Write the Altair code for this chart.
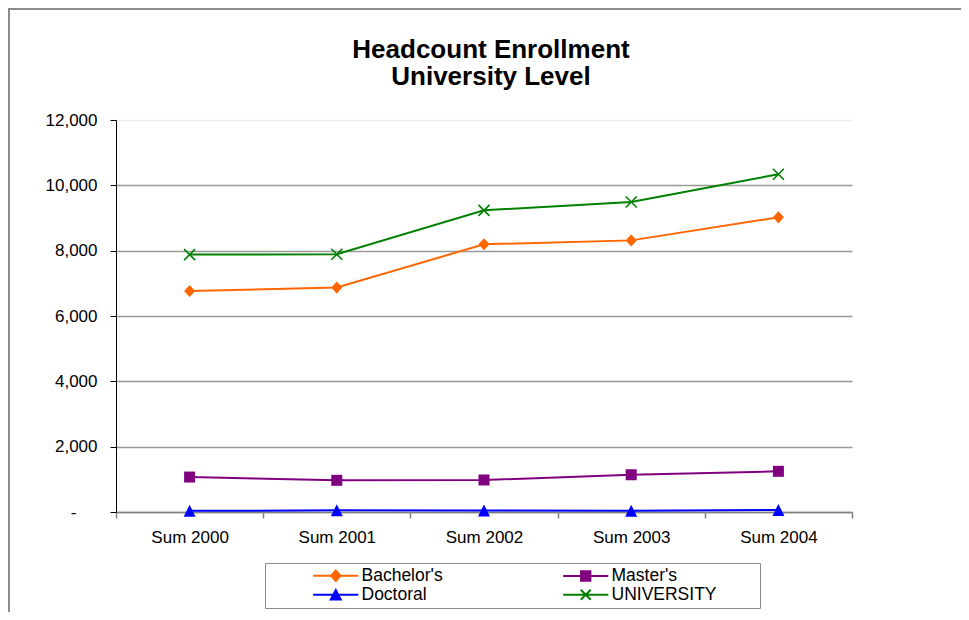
import altair as alt
import pandas as pd

# ---- data ----
periods = ["Sum 2000", "Sum 2001", "Sum 2002", "Sum 2003", "Sum 2004"]
bachelors = [6765, 6870, 8195, 8315, 9020]
masters = [1070, 970, 980, 1140, 1245]
doctoral = [35, 50, 45, 35, 65]
university = [7880, 7890, 9235, 9490, 10340]

series_names = ["Bachelor's", "Master's", "Doctoral", "UNIVERSITY"]
series_colors = ["#FF6600", "#800080", "#0000FF", "#008000"]
y_ticks = [0, 2000, 4000, 6000, 8000, 10000, 12000]
title_lines = ["Headcount Enrollment", "University Level"]

rows = []
for name, vals in zip(series_names, [bachelors, masters, doctoral, university]):
    for p, v in zip(periods, vals):
        rows.append({"period": p, "series": name, "value": v})
df = pd.DataFrame(rows)

FONT = "Liberation Sans, Arial, Helvetica, sans-serif"
PAD = "\u00a0" * 8 + "\u200b"

# marker shapes (plot)
DIAMOND = "M0,-1.1L1,0L0,1.1L-1,0Z"
SQUARE = "M-1,-1H1V1H-1Z"
TRIANGLE = "M0,-1L1,1H-1Z"
XMARK = "M-1,-1L1,1M-1,1L1,-1"

# legend symbols: line segment plus marker
LINE = "M-4.1,0H4.1"
legend_paths = [
    LINE + "M0,-0.95L0.85,0L0,0.95L-0.85,0Z",
    LINE + "M-0.85,-0.85H0.85V0.85H-0.85Z",
    LINE + "M0,-0.85L0.9,0.85H-0.9Z",
    LINE + "M-0.9,-0.9L0.9,0.9M-0.9,0.9L0.9,-0.9",
]

x_enc = alt.X(
    "period:N",
    sort=periods,
    title=None,
    scale=alt.Scale(type="band", domain=periods, paddingInner=0, paddingOuter=0),
    axis=alt.Axis(
        tickBand="extent",
        labelAngle=0,
        labelFont=FONT,
        labelFontSize=17,
        labelColor="black",
        labelPadding=11,
        tickSize=6,
        tickColor="#808080",
        tickWidth=1.5,
        domainColor="#808080",
        domainWidth=1.5,
        grid=False,
    ),
)

y_enc = alt.Y(
    "value:Q",
    title=None,
    scale=alt.Scale(domain=[0, 12000], nice=False),
    axis=alt.Axis(
        values=y_ticks,
        labelExpr="datum.value == 0 ? '-' : format(datum.value, ',')",
        labelFont=FONT,
        labelFontSize=17,
        labelColor="black",
        labelPadding={"condition": {"test": "datum.value == 0", "value": 34}, "value": 13},
        tickSize=6,
        tickColor="black",
        domainColor="black",
        grid=True,
        gridColor={"condition": {"test": "datum.value == 12000", "value": "#ececec"}, "value": "#999999"},
        gridWidth=1.5,
    ),
)

base = alt.Chart(df)

marker_specs = [
    (DIAMOND, 121, True),
    (SQUARE, 121, True),
    (TRIANGLE, 144, True),
    (XMARK, 121, False),
]

series_layers = []
for name, col, (shape, size, filled) in zip(series_names, series_colors, marker_specs):
    pt = dict(shape=shape, size=size, filled=filled, color=col, opacity=1)
    if not filled:
        pt["strokeWidth"] = 1.6
    series_layers.append(
        base.transform_filter(alt.datum.series == name)
        .mark_line(color=col, strokeWidth=2, point=alt.OverlayMarkDef(**pt))
        .encode(x=x_enc, y=y_enc)
    )

leg = alt.Legend(
    title=None,
    orient="none",
    legendX=149,
    legendY=443,
    columns=2,
    direction="horizontal",
    columnPadding=37,
    rowPadding=0,
    padding=4,
    strokeColor="#8c8c8c",
    fillColor="white",
    symbolSize=121,
    symbolStrokeWidth=2,
    symbolOpacity=1,
    symbolOffset=58,
    labelOffset=17,
    labelFont=FONT,
    labelFontSize=17.5,
    labelColor="black",
    labelLimit=400,
    labelExpr="datum.label + '" + PAD + "'",
)

# invisible layer that only carries the legend
legend_layer = base.mark_point(filled=True, size=121, strokeWidth=2, opacity=0).encode(
    x=x_enc,
    y=y_enc,
    fill=alt.Fill("series:N", scale=alt.Scale(domain=series_names, range=series_colors), legend=leg),
    stroke=alt.Stroke("series:N", scale=alt.Scale(domain=series_names, range=series_colors), legend=leg),
    shape=alt.Shape("series:N", scale=alt.Scale(domain=series_names, range=legend_paths), legend=leg),
)

frame = (
    alt.Chart(pd.DataFrame({"k": [0]}))
    .mark_rect(fillOpacity=0, stroke="#8c8c8c", strokeWidth=2)
    .encode(x=alt.value(-107), x2=alt.value(1200), y=alt.value(-111), y2=alt.value(1200))
)

chart = (
    alt.layer(frame, *series_layers, legend_layer)
    .properties(
        width=736,
        height=392,
        padding={"left": 108, "top": 112, "right": 109, "bottom": 100},
        autosize=alt.AutoSizeParams(type="none"),
        title=alt.TitleParams(
            text=title_lines,
            font=FONT,
            fontSize=26,
            fontWeight="bold",
            color="black",
            anchor="middle",
            dx=7,
            dy=104,
            offset=22,
            lineHeight=27,
        ),
        background="white",
    )
    .configure_view(strokeWidth=0)
)

chart.save("out.html", embed_options={"renderer": "svg", "actions": False})
